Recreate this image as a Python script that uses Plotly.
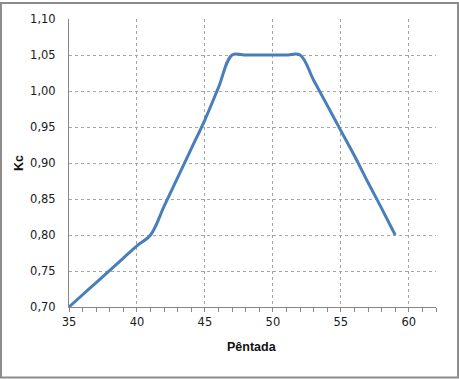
import plotly.graph_objects as go

pentada = list(range(35, 60))
kc = [0.700, 0.717, 0.734, 0.751, 0.768, 0.785, 0.800,
      0.840, 0.880, 0.920, 0.960, 1.005, 1.050,
      1.050, 1.050, 1.050, 1.050, 1.050,
      1.015, 0.980, 0.945, 0.910, 0.873, 0.837, 0.800]
y_ticks = [0.70, 0.75, 0.80, 0.85, 0.90, 0.95, 1.00, 1.05, 1.10]
x_ticks = [35, 40, 45, 50, 55, 60]

W, H = 459, 379
L, R, T, B = 69, 23, 17, 72
pw, ph = W - L - R, H - T - B

font = dict(family="DejaVu Sans", size=11.5, color="#1a1a1a")
tfont = dict(family="Liberation Sans", size=12.5, color="#111111")

fig = go.Figure()
fig.add_trace(go.Scatter(
    x=pentada, y=kc, mode="lines",
    line=dict(color="#4A7EBB", width=3, shape="spline", smoothing=1.0),
    showlegend=False, hoverinfo="skip"))

fig.update_layout(
    width=W, height=H,
    margin=dict(l=L, r=R, t=T, b=B),
    paper_bgcolor="white", plot_bgcolor="white",
    separators=",.",
    font=font,
    xaxis=dict(range=[35, 62], tickvals=x_ticks, ticks="outside", ticklen=4,
               tickcolor="#868686", showline=True, linecolor="#868686", linewidth=1,
               showgrid=True, gridcolor="#A6A6A6", griddash="dot", gridwidth=1,
               zeroline=False, tickfont=font,
               minor=dict(dtick=1, ticks="outside", ticklen=4, tickcolor="#868686",
                          showgrid=False)),
    yaxis=dict(range=[0.70, 1.10], tickvals=y_ticks, tickformat=".2f", ticks="",
               showline=True, linecolor="#868686", linewidth=1,
               showgrid=True, gridcolor="#A6A6A6", griddash="dot", gridwidth=1,
               zeroline=False, tickfont=font, ticklabelstandoff=10),
    annotations=[
        dict(text="<b>Pêntada</b>", xref="paper", yref="paper",
             x=(252 - L) / pw, y=-(347 - (T + ph)) / ph, showarrow=False,
             font=tfont, xanchor="center", yanchor="middle"),
        dict(text="<b>Kc</b>", xref="paper", yref="paper",
             x=-(L - 19) / pw, y=(T + ph - 162) / ph, showarrow=False, textangle=-90,
             font=tfont, xanchor="center", yanchor="middle"),
    ],
    shapes=[dict(type="rect", xref="paper", yref="paper",
                 x0=-(L - 1) / pw, x1=1 + (R - 1) / pw,
                 y0=-(B - 1) / ph, y1=1 + (T - 1) / ph,
                 line=dict(color="#8C8C8C", width=2), fillcolor="rgba(0,0,0,0)",
                 layer="above")],
)

fig.write_html("out.html", config={"displayModeBar": False},
               post_script="document.body.style.margin='0';document.body.style.padding='0';")
